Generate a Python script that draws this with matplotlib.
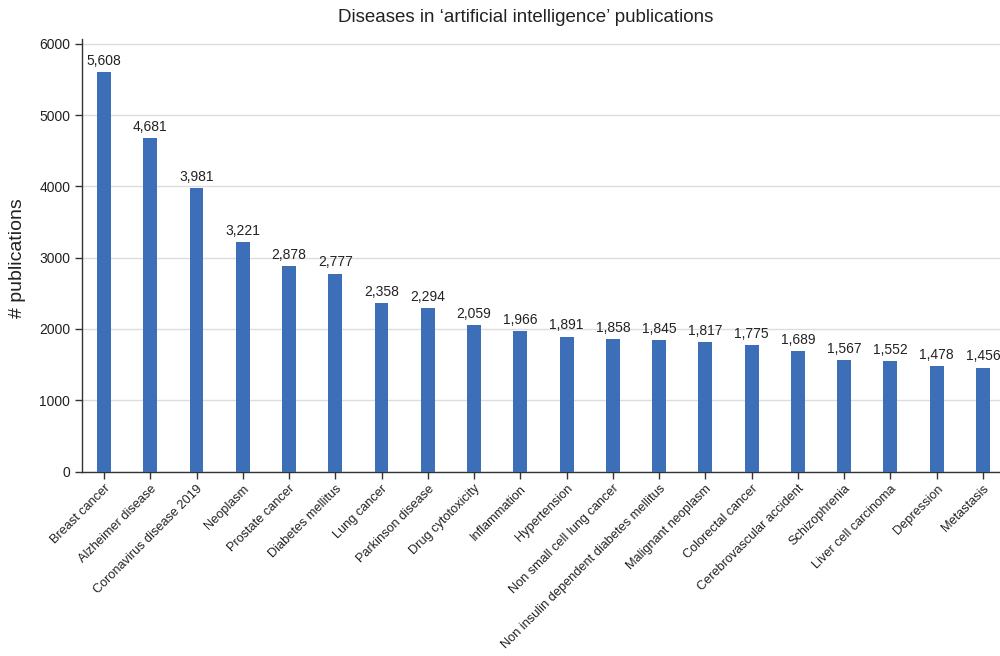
import matplotlib
matplotlib.use("Agg")
import matplotlib.pyplot as plt
import numpy as np

plt.rcParams['font.family'] = ['Liberation Sans', 'DejaVu Sans']

categories = ["Breast cancer", "Alzheimer disease", "Coronavirus disease 2019", "Neoplasm",
              "Prostate cancer", "Diabetes mellitus", "Lung cancer", "Parkinson disease",
              "Drug cytotoxicity", "Inflammation", "Hypertension", "Non small cell lung cancer",
              "Non insulin dependent diabetes mellitus", "Malignant neoplasm", "Colorectal cancer",
              "Cerebrovascular accident", "Schizophrenia", "Liver cell carcinoma", "Depression",
              "Metastasis"]
values = [5608, 4681, 3981, 3221, 2878, 2777, 2358, 2294, 2059, 1966, 1891, 1858, 1845,
          1817, 1775, 1689, 1567, 1552, 1478, 1456]
yticks = [0, 1000, 2000, 3000, 4000, 5000, 6000]

fig = plt.figure(figsize=(10, 6.56), dpi=100)
ax = fig.add_axes([0.082, 1 - 471.5 / 656, 0.918, (471.5 - 39) / 656])

x = np.arange(len(categories))
ax.bar(x, values, width=0.3, color='#3d6fb8', zorder=3)
for xi, v in zip(x, values):
    ax.text(xi, v + 60, f"{v:,}", ha='center', va='bottom', fontsize=10, color='#222222')

ax.set_xlim(-0.476, len(categories) - 1 + 0.37)
ax.set_ylim(0, 6070)
ax.set_yticks(yticks)
ax.set_yticklabels([str(t) for t in yticks], fontsize=10, color='#222222')
ax.set_xticks(x)
ax.set_xticklabels(categories, rotation=45, ha='right', rotation_mode='anchor', fontsize=9.2,
                   color='#222222')
ax.tick_params(axis='both', length=5, color='#333333', width=1)
ax.tick_params(axis='x', pad=3)
ax.yaxis.grid(True, color='#dcdcdc', linewidth=1, zorder=0)
ax.set_axisbelow(True)
for s in ['top', 'right']:
    ax.spines[s].set_visible(False)
for s in ['left', 'bottom']:
    ax.spines[s].set_color('#333333')
    ax.spines[s].set_linewidth(1)

fig.text(0.526, 1 - 18 / 656, "Diseases in \u2018artificial intelligence\u2019 publications",
         ha='center', va='center', fontsize=13.5, color='#222222')
fig.text(0.018, 1 - 258 / 656, "# publications", rotation=90, ha='center', va='center',
         fontsize=14, color='#222222')

fig.savefig("out.png", dpi=100)
